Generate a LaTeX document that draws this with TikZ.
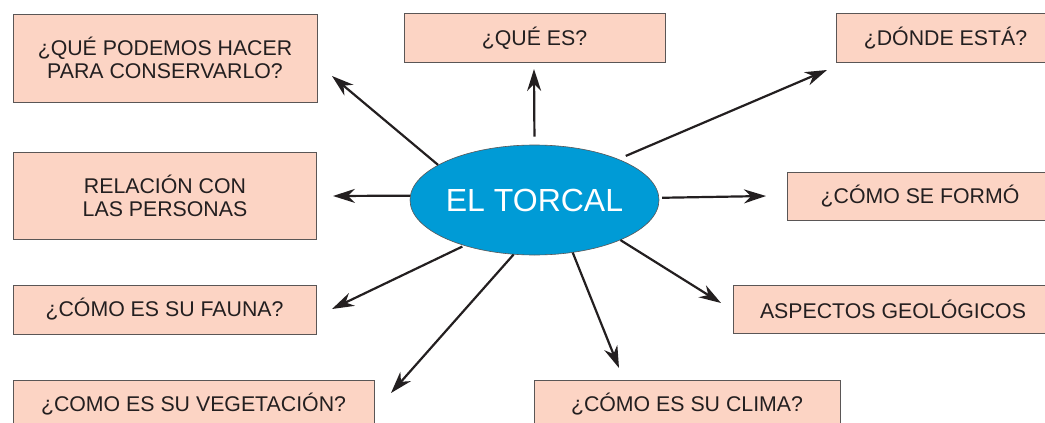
\documentclass[tikz,border=0pt]{standalone}
\usepackage{fontspec}
\setmainfont{Liberation Sans}
\usetikzlibrary{arrows.meta,shapes.geometric}
\definecolor{cajafondo}{RGB}{252,212,196}
\definecolor{cajaborde}{RGB}{90,86,86}
\definecolor{azultorcal}{RGB}{0,155,214}
\definecolor{tinta}{RGB}{35,31,32}
\begin{document}
\begin{tikzpicture}[x=1pt, y=-1pt,
    caja/.style={rectangle, draw=cajaborde, fill=cajafondo, line width=0.8pt, inner sep=0pt,
      align=center, text=tinta, font=\fontsize{21.3}{23}\selectfont},
    flecha/.style={draw=tinta, line width=2.2pt, -{Stealth[length=22pt, width=14pt, inset=7pt]}}]
    \clip (0,0) rectangle (1045,423);
    % 中心
    \node[ellipse, draw=cajaborde, fill=azultorcal, line width=0.6pt, inner sep=0pt,
      minimum width=249pt, minimum height=110pt,
      text=white, font=\fontsize{32}{36}\selectfont] (torcal) at (534.5,200) {\makebox[0pt]{EL TORCAL}};
    % 質問
    \node[caja, minimum width=304pt, minimum height=88pt] (conservar) at (165,58) {¿QUÉ PODEMOS HACER\\PARA CONSERVARLO?};
    \node[caja, minimum width=261pt, minimum height=49pt] (quees) at (534.5,38) {¿QUÉ ES?};
    \node[caja, minimum width=219pt, minimum height=49pt] (donde) at (945.5,38) {¿DÓNDE ESTÁ?};
    \node[caja, minimum width=303pt, minimum height=87pt] (relacion) at (165,195.5) {RELACIÓN CON\\LAS PERSONAS};
    \node[caja, minimum width=266pt, minimum height=48pt] (formo) at (920,196) {¿CÓMO SE FORMÓ};
    \node[caja, minimum width=303pt, minimum height=49pt] (fauna) at (164.5,309.5) {¿CÓMO ES SU FAUNA?};
    \node[caja, minimum width=320pt, minimum height=48pt] (geologia) at (893,309) {ASPECTOS GEOLÓGICOS};
    \node[caja, minimum width=361pt, minimum height=48pt] (vegetacion) at (193.5,404) {¿COMO ES SU VEGETACIÓN?};
    \node[caja, minimum width=306pt, minimum height=48pt] (clima) at (687,404) {¿CÓMO ES SU CLIMA?};

    % puntas de flecha
    \coordinate (pConservar) at (332,76);
    \coordinate (pQuees) at (534,69);
    \coordinate (pDonde) at (827,70);
    \coordinate (pRelacion) at (333,196);
    \coordinate (pFormo) at (766,196);
    \coordinate (pFauna) at (332,309);
    \coordinate (pGeologia) at (721,303);
    \coordinate (pVegetacion) at (391,393);
    \coordinate (pClima) at (619,368);

    % flechas
    \draw[flecha] (torcal.160) -- (pConservar);
    \draw[flecha, shorten <=8pt] (torcal.90) -- (pQuees);
    \draw[flecha, shorten <=8pt] (torcal.26) -- (pDonde);
    \draw[flecha] (torcal.178.2) -- (pRelacion);
    \draw[flecha, shorten <=3pt] (torcal.1.8) -- (pFormo);
    \draw[flecha, shorten <=2pt] (torcal.213) -- (pFauna);
    \draw[flecha] (torcal.249) -- (pVegetacion);
    \draw[flecha] (torcal.306) -- (pClima);
    \draw[flecha] (torcal.335) -- (pGeologia);
\end{tikzpicture}
\end{document}
